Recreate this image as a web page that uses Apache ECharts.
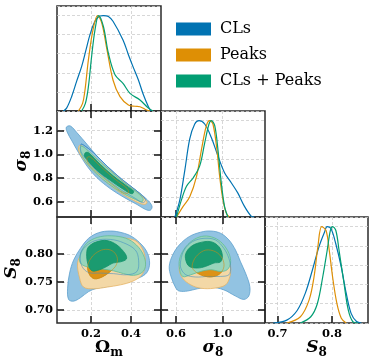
<!DOCTYPE html>
<html><head><meta charset="utf-8">
<script src="https://cdn.jsdelivr.net/npm/echarts@6/dist/echarts.min.js"></script>
<style>html,body{margin:0;padding:0;background:#fff}#c{width:374px;height:364px}</style>
</head><body><div id="c"></div><script>
// ---------------- data ----------------
const legendNames = ['CLs', 'Peaks', 'CLs + Peaks'];
const lineColors = ['#0173b2', '#de8f05', '#029e73'];

const omTicks = [0.2, 0.4], omLabels = ['0.2', '0.4'];
const sigXTicks = [0.6, 1.0], sigXLabels = ['0.6', '1.0'];
const sigYTicks = [0.6, 0.8, 1.0, 1.2], sigYLabels = ['0.6', '0.8', '1.0', '1.2'];
const s8XTicks = [0.7, 0.8], s8XLabels = ['0.7', '0.8'];
const s8YTicks = [0.70, 0.75, 0.80], s8YLabels = ['0.70', '0.75', '0.80'];

const omRange = [0.03, 0.55], sigRange = [0.47, 1.367], s8Range = [0.677, 0.866], pdfRange = [0, 1.1];

// 1D marginals [value, normalised density]
const omCLs = [[0.062,0],[0.078,0.03],[0.103,0.15],[0.128,0.31],[0.153,0.465],[0.175,0.64],[0.195,0.80],[0.22,0.94],[0.245,0.995],[0.262,1.0],[0.287,0.99],[0.31,0.94],[0.36,0.745],[0.387,0.59],[0.41,0.465],[0.437,0.325],[0.462,0.17],[0.487,0.045],[0.50,0]];
const omPeaks = [[0.137,0],[0.158,0.08],[0.17,0.22],[0.187,0.535],[0.21,0.85],[0.233,1.0],[0.254,0.92],[0.28,0.64],[0.31,0.325],[0.345,0.15],[0.387,0.063],[0.42,0.05],[0.445,0.045],[0.478,0.01],[0.495,0]];
const omComb = [[0.153,0],[0.172,0.08],[0.187,0.255],[0.203,0.57],[0.22,0.85],[0.238,1.0],[0.262,0.885],[0.287,0.605],[0.32,0.38],[0.36,0.29],[0.395,0.185],[0.445,0.115],[0.487,0.03],[0.51,0]];

const sigCLs = [[0.59,0],[0.633,0.18],[0.676,0.49],[0.718,0.81],[0.761,0.965],[0.798,1.0],[0.847,0.965],[0.904,0.825],[0.961,0.633],[1.018,0.46],[1.076,0.355],[1.132,0.25],[1.19,0.11],[1.247,0.01],[1.276,0]];
const sigPeaks = [[0.604,0],[0.661,0.11],[0.718,0.21],[0.776,0.42],[0.819,0.70],[0.862,0.95],[0.89,1.0],[0.918,0.965],[0.952,0.70],[0.976,0.42],[1.004,0.18],[1.033,0.04],[1.06,0]];
const sigComb = [[0.604,0],[0.647,0.18],[0.69,0.32],[0.747,0.405],[0.804,0.53],[0.847,0.77],[0.884,0.965],[0.904,1.0],[0.933,0.95],[0.961,0.70],[0.99,0.355],[1.018,0.11],[1.047,0]];

const s8CLs = [[0.692,0],[0.717,0.03],[0.736,0.13],[0.751,0.31],[0.764,0.55],[0.776,0.79],[0.786,0.94],[0.791,1.0],[0.798,0.98],[0.807,0.82],[0.817,0.58],[0.826,0.31],[0.835,0.10],[0.845,0.015],[0.854,0]];
const s8Peaks = [[0.717,0],[0.742,0.065],[0.758,0.24],[0.767,0.48],[0.774,0.79],[0.781,1.0],[0.789,0.96],[0.795,0.75],[0.801,0.48],[0.809,0.20],[0.817,0.05],[0.826,0]];
const s8Comb = [[0.742,0],[0.761,0.065],[0.773,0.20],[0.783,0.48],[0.791,0.75],[0.797,0.96],[0.801,1.0],[0.807,0.96],[0.813,0.75],[0.822,0.41],[0.830,0.13],[0.838,0.015],[0.848,0]];

// 2D contours (68% = 1, 95% = 2)
const omSigCLs2 = [[0.077,1.231],[0.097,1.240],[0.13,1.183],[0.18,1.085],[0.23,0.986],[0.297,0.873],[0.363,0.774],[0.43,0.689],[0.48,0.618],[0.505,0.562],[0.497,0.528],[0.472,0.534],[0.43,0.576],[0.363,0.638],[0.297,0.709],[0.23,0.802],[0.18,0.901],[0.138,1.014],[0.105,1.113],[0.08,1.192]];
const omSigCLs1 = [[0.15,1.085],[0.163,1.079],[0.213,1.014],[0.28,0.901],[0.355,0.788],[0.43,0.689],[0.472,0.618],[0.46,0.590],[0.422,0.627],[0.347,0.703],[0.28,0.788],[0.213,0.887],[0.163,0.986],[0.147,1.042]];
const omSigPk2 = [[0.143,1.076],[0.163,1.062],[0.213,0.986],[0.28,0.887],[0.347,0.788],[0.413,0.703],[0.467,0.627],[0.48,0.590],[0.463,0.576],[0.413,0.610],[0.347,0.675],[0.28,0.760],[0.213,0.859],[0.163,0.957],[0.138,1.034]];
const omSigPk1 = [[0.18,0.972],[0.197,0.977],[0.255,0.887],[0.322,0.788],[0.38,0.712],[0.388,0.675],[0.363,0.675],[0.305,0.746],[0.238,0.836],[0.188,0.921]];
const omSigCmb2 = [[0.15,1.070],[0.172,1.051],[0.222,0.972],[0.288,0.873],[0.355,0.774],[0.422,0.689],[0.46,0.627],[0.455,0.599],[0.422,0.618],[0.355,0.675],[0.288,0.751],[0.222,0.844],[0.172,0.943],[0.147,1.022]];
const omSigCmb1 = [[0.172,1.014],[0.188,1.014],[0.247,0.915],[0.313,0.816],[0.38,0.731],[0.413,0.689],[0.405,0.666],[0.363,0.703],[0.297,0.779],[0.23,0.864],[0.183,0.949],[0.167,0.986]];

const omS8CLs2 = [[0.088,0.719],[0.083,0.739],[0.093,0.766],[0.113,0.789],[0.147,0.810],[0.188,0.828],[0.238,0.838],[0.297,0.841],[0.355,0.838],[0.405,0.831],[0.455,0.816],[0.483,0.801],[0.493,0.784],[0.483,0.769],[0.455,0.760],[0.405,0.754],[0.347,0.748],[0.28,0.742],[0.23,0.739],[0.188,0.733],[0.147,0.722],[0.113,0.716]];
const omS8CLs1 = [[0.147,0.798],[0.172,0.813],[0.222,0.824],[0.297,0.826],[0.363,0.820],[0.422,0.807],[0.438,0.789],[0.43,0.769],[0.38,0.763],[0.313,0.765],[0.247,0.766],[0.188,0.767],[0.155,0.778]];
const omS8Pk2 = [[0.133,0.784],[0.143,0.757],[0.163,0.741],[0.213,0.738],[0.28,0.741],[0.347,0.745],[0.405,0.751],[0.447,0.760],[0.467,0.772],[0.472,0.789],[0.46,0.807],[0.43,0.822],[0.38,0.828],[0.313,0.829],[0.247,0.826],[0.197,0.816],[0.155,0.801]];
const omS8Pk1 = [[0.183,0.778],[0.193,0.763],[0.217,0.756],[0.255,0.759],[0.297,0.769],[0.327,0.781],[0.33,0.795],[0.305,0.806],[0.263,0.808],[0.222,0.801],[0.197,0.791]];
const omS8Cmb2 = [[0.143,0.792],[0.155,0.807],[0.188,0.822],[0.247,0.831],[0.322,0.832],[0.388,0.826],[0.438,0.812],[0.467,0.794],[0.472,0.778],[0.455,0.767],[0.413,0.762],[0.363,0.765],[0.313,0.770],[0.263,0.773],[0.213,0.775],[0.172,0.778],[0.147,0.784]];
const omS8Cmb1 = [[0.18,0.807],[0.197,0.816],[0.23,0.822],[0.28,0.824],[0.33,0.816],[0.372,0.800],[0.377,0.791],[0.347,0.786],[0.31,0.784],[0.28,0.778],[0.243,0.772],[0.205,0.770],[0.183,0.784]];

const sigS8CLs2 = [[0.599,0.739],[0.556,0.760],[0.541,0.778],[0.57,0.798],[0.627,0.816],[0.713,0.831],[0.813,0.839],[0.899,0.841],[0.984,0.837],[1.056,0.825],[1.113,0.807],[1.156,0.786],[1.199,0.766],[1.236,0.742],[1.227,0.725],[1.184,0.719],[1.113,0.725],[1.013,0.736],[0.899,0.741],[0.784,0.738],[0.699,0.734],[0.627,0.734]];
const sigS8CLs1 = [[0.641,0.789],[0.67,0.807],[0.741,0.822],[0.841,0.828],[0.941,0.825],[1.013,0.810],[1.056,0.792],[1.07,0.775],[1.056,0.763],[0.984,0.760],[0.87,0.760],[0.77,0.759],[0.684,0.763],[0.641,0.775]];
const sigS8Pk2 = [[0.627,0.772],[0.656,0.757],[0.727,0.745],[0.813,0.739],[0.927,0.739],[1.027,0.745],[1.064,0.760],[1.07,0.778],[1.041,0.795],[0.984,0.810],[0.899,0.820],[0.799,0.820],[0.713,0.810],[0.647,0.792]];
const sigS8Pk1 = [[0.741,0.775],[0.784,0.766],[0.856,0.760],[0.927,0.760],[0.984,0.766],[1.013,0.778],[0.999,0.792],[0.941,0.804],[0.856,0.807],[0.784,0.798],[0.747,0.786]];
const sigS8Cmb2 = [[0.627,0.778],[0.636,0.795],[0.684,0.813],[0.756,0.826],[0.841,0.832],[0.927,0.829],[0.999,0.819],[1.056,0.801],[1.07,0.784],[1.041,0.772],[0.984,0.769],[0.899,0.772],[0.813,0.769],[0.727,0.763],[0.656,0.760]];
const sigS8Cmb1 = [[0.684,0.801],[0.727,0.813],[0.799,0.820],[0.899,0.822],[0.97,0.813],[0.999,0.798],[0.984,0.786],[0.927,0.784],[0.856,0.778],[0.784,0.775],[0.713,0.778],[0.684,0.789]];

// ---------------- styling ----------------
const FONT = 'DejaVu Serif';
const tickLine = {color: '#111', width: 1.5};
const gridLine = {color: '#cdcdcd', type: [3, 2], width: 0.8};
const fills = {
  CLs2: ['#92c3e2', '#5d9fcd'], CLs1: ['#92c3e2', '#3d8cc4'],
  Pk2: ['#f3d8a6', '#e6b465'], Pk1: ['#dc9216', '#d08a10'],
  Cmb2: ['#98d5bb', '#5dbb98'], Cmb1: ['#1b9b70', '#12926a']
};
const nameRich = {
  a: {fontFamily: FONT, fontWeight: 'bold', fontSize: 17, color: '#000', lineHeight: 20, verticalAlign: 'top', padding: [0, 0, 2, 0]},
  ai: {fontFamily: FONT, fontWeight: 'bold', fontStyle: 'italic', fontSize: 17, color: '#000', lineHeight: 20, verticalAlign: 'top', padding: [0, 0, 2, 0]},
  b: {fontFamily: FONT, fontWeight: 'bold', fontSize: 12, color: '#000', lineHeight: 12, verticalAlign: 'bottom'},
  bb: {fontFamily: FONT, fontWeight: 'bold', fontSize: 12, color: '#000', lineHeight: 12, verticalAlign: 'bottom'}
};

const grids = [
  {left: 57, top: 6, width: 104, height: 105},
  {left: 57, top: 111, width: 104, height: 106},
  {left: 161, top: 111, width: 104, height: 106},
  {left: 57, top: 217, width: 104, height: 106},
  {left: 161, top: 217, width: 104, height: 106},
  {left: 265, top: 217, width: 103, height: 106}
].map(g => Object.assign(g, {show: true, borderColor: '#2b2b2b', borderWidth: 1.5, backgroundColor: 'transparent'}));

const xAxes = [], yAxes = [];
function labelFn(ticks, labels) {
  return v => { for (let i = 0; i < ticks.length; i++) if (Math.abs(ticks[i] - v) < 1e-6) return labels[i]; return ''; };
}
function addAxis(list, o) {
  const ax = {
    type: 'value', gridIndex: o.g, min: o.range[0], max: o.range[1], position: o.pos,
    axisLine: {show: false},
    axisTick: {show: o.tick !== false, inside: true, length: 7, lineStyle: tickLine},
    splitLine: {show: !!o.split, lineStyle: gridLine},
    axisLabel: {show: !!o.labels, fontFamily: FONT, fontWeight: 'bold', fontSize: 11.5, color: '#000', margin: o.margin || 5}
  };
  if (o.ticks) {
    ax.axisTick.customValues = o.ticks;
    ax.axisLabel.customValues = o.ticks;
    if (o.labels) ax.axisLabel.formatter = labelFn(o.ticks, o.labels);
  } else {
    ax.interval = o.interval;
  }
  if (o.name) {
    ax.name = o.name; ax.nameLocation = 'middle'; ax.nameGap = o.nameGap;
    ax.nameMoveOverlap = false;
    ax.nameTextStyle = {rich: nameRich, padding: o.namePad || 0};
    if (o.nameRotate !== undefined) ax.nameRotate = o.nameRotate;
  }
  list.push(ax);
  return list.length - 1;
}

// panel 0: Omega_m pdf
const x0 = addAxis(xAxes, {g: 0, range: omRange, pos: 'bottom', ticks: omTicks, split: true});
const y0 = addAxis(yAxes, {g: 0, range: pdfRange, pos: 'left', interval: 0.2, tick: false, split: true});
// panel 1: Omega_m - sigma8
const x1 = addAxis(xAxes, {g: 1, range: omRange, pos: 'bottom', ticks: omTicks, split: true});
addAxis(xAxes, {g: 1, range: omRange, pos: 'top', ticks: omTicks});
const y1 = addAxis(yAxes, {g: 1, range: sigRange, pos: 'left', ticks: sigYTicks, labels: sigYLabels, split: true, margin: 4,
  name: '{ai|σ}{bb|8}', nameGap: 24, nameRotate: 90, namePad: [0, 0, 0, 6]});
addAxis(yAxes, {g: 1, range: sigRange, pos: 'right', ticks: sigYTicks});
// panel 2: sigma8 pdf
const x2 = addAxis(xAxes, {g: 2, range: sigRange, pos: 'bottom', ticks: sigXTicks, split: true});
const y2 = addAxis(yAxes, {g: 2, range: pdfRange, pos: 'left', interval: 0.2, tick: false, split: true});
// panel 3: Omega_m - S8
const x3 = addAxis(xAxes, {g: 3, range: omRange, pos: 'bottom', ticks: omTicks, labels: omLabels, split: true,
  name: '{a|Ω}{b|m}', nameGap: 16});
addAxis(xAxes, {g: 3, range: omRange, pos: 'top', ticks: omTicks});
const y3 = addAxis(yAxes, {g: 3, range: s8Range, pos: 'left', ticks: s8YTicks, labels: s8YLabels, split: true, margin: 4,
  name: '{ai|S}{bb|8}', nameGap: 34, nameRotate: 90, namePad: [0, 0, 0, 3]});
addAxis(yAxes, {g: 3, range: s8Range, pos: 'right', ticks: s8YTicks});
// panel 4: sigma8 - S8
const x4 = addAxis(xAxes, {g: 4, range: sigRange, pos: 'bottom', ticks: sigXTicks, labels: sigXLabels, split: true,
  name: '{ai|σ}{bb|8}', nameGap: 16});
addAxis(xAxes, {g: 4, range: sigRange, pos: 'top', ticks: sigXTicks});
const y4 = addAxis(yAxes, {g: 4, range: s8Range, pos: 'left', ticks: s8YTicks, split: true});
addAxis(yAxes, {g: 4, range: s8Range, pos: 'right', ticks: s8YTicks});
// panel 5: S8 pdf
const x5 = addAxis(xAxes, {g: 5, range: s8Range, pos: 'bottom', ticks: s8XTicks, labels: s8XLabels, split: true,
  name: '{ai|S}{bb|8}', nameGap: 16});
const y5 = addAxis(yAxes, {g: 5, range: pdfRange, pos: 'left', interval: 0.2, tick: false, split: true});

// ---------------- series ----------------
const series = [];
function contour(pts, xi, yi, style, outlineOnly) {
  series.push({
    type: 'custom', xAxisIndex: xi, yAxisIndex: yi, data: pts, silent: true, z: outlineOnly ? 3 : 2,
    renderItem: (params, api) => {
      if (params.dataIndex !== 0) return;
      const points = pts.map(p => api.coord(p));
      return {type: 'polygon', shape: {points: points, smooth: 0.35},
        style: {fill: outlineOnly ? 'none' : style[0], stroke: style[1], lineWidth: outlineOnly ? 0.7 : 0.8, opacity: outlineOnly ? 0.8 : 1}};
    }
  });
}
function panel2D(xi, yi, c2, c1, p2, p1, m2, m1) {
  contour(c2, xi, yi, fills.CLs2); contour(c1, xi, yi, fills.CLs1);
  contour(p2, xi, yi, fills.Pk2); contour(p1, xi, yi, fills.Pk1);
  contour(m2, xi, yi, fills.Cmb2); contour(m1, xi, yi, fills.Cmb1);
  contour(c1, xi, yi, fills.CLs1, true); contour(p1, xi, yi, fills.Pk1, true);
}
panel2D(x1, y1, omSigCLs2, omSigCLs1, omSigPk2, omSigPk1, omSigCmb2, omSigCmb1);
panel2D(x3, y3, omS8CLs2, omS8CLs1, omS8Pk2, omS8Pk1, omS8Cmb2, omS8Cmb1);
panel2D(x4, y4, sigS8CLs2, sigS8CLs1, sigS8Pk2, sigS8Pk1, sigS8Cmb2, sigS8Cmb1);

function pdfLines(xi, yi, sets) {
  sets.forEach((d, i) => series.push({
    type: 'line', name: legendNames[i], xAxisIndex: xi, yAxisIndex: yi, data: d, smooth: 0.35,
    showSymbol: false, symbol: 'none', silent: true, z: 4,
    itemStyle: {color: lineColors[i]}, lineStyle: {color: lineColors[i], width: 1.2}
  }));
}
pdfLines(x0, y0, [omCLs, omPeaks, omComb]);
pdfLines(x2, y2, [sigCLs, sigPeaks, sigComb]);
pdfLines(x5, y5, [s8CLs, s8Peaks, s8Comb]);

const chart = echarts.init(document.getElementById('c'), null, {renderer: 'canvas'});
chart.setOption({
  animation: false,
  backgroundColor: '#fff',
  grid: grids, xAxis: xAxes, yAxis: yAxes, series: series,
  legend: {
    orient: 'vertical', left: 176, top: 21, padding: 0, itemWidth: 35, itemHeight: 13, itemGap: 10, icon: 'rect',
    selectedMode: false, data: legendNames,
    formatter: n => '{s|}' + n,
    textStyle: {fontFamily: FONT, fontSize: 16, color: '#000', lineHeight: 13, rich: {s: {width: 4}}}
  }
});
</script></body></html>
